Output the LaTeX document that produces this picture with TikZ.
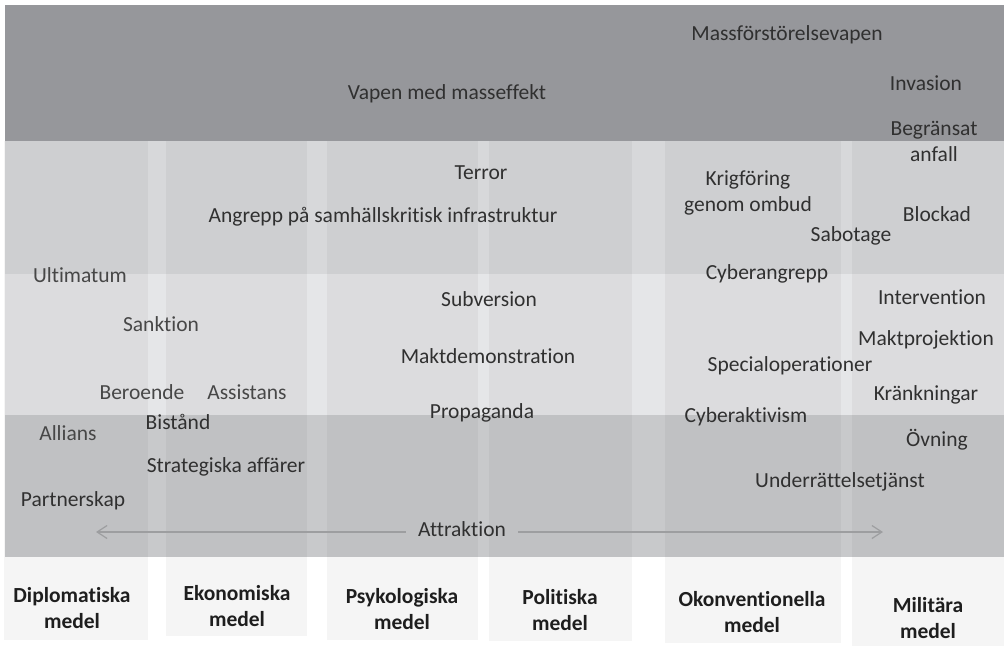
\documentclass[tikz,border=0pt]{standalone}
\usepackage{fontspec}
\setmainfont{Carlito}[Ligatures=NoCommon]
\usetikzlibrary{arrows.meta}
\definecolor{topband}{HTML}{96979B}
\definecolor{bandB}{HTML}{D7D8DA}
\definecolor{bandC}{HTML}{E5E6E8}
\definecolor{bandD}{HTML}{C8C9CB}
\definecolor{txt}{HTML}{303030}
\definecolor{txtlight}{HTML}{474747}
\definecolor{labc}{HTML}{1E1E1E}
\definecolor{arrowc}{HTML}{9D9EA0}
\tikzset{
  lbl/.style={anchor=base, inner sep=0pt, text=txt, font=\fontsize{21.5pt}{26pt}\selectfont},
  lbllight/.style={lbl, text=txtlight},
  lbl2/.style={lbl, align=center},
  meansbox/.style={anchor=base, inner sep=0pt, align=center, text=labc, font=\fontsize{21.5pt}{26pt}\selectfont\bfseries},
  colstrip/.style={fill=black, fill opacity=0.04, draw=none},
  arr/.style={draw=arrowc, line width=1.4pt, -{Straight Barb[length=10pt,width=13pt,line width=1.2pt]}}
}
\begin{document}
\begin{tikzpicture}[x=1pt,y=-1pt]
\useasboundingbox (0,0) rectangle (1004,646);
% bands
\fill[topband] (5,5) rectangle (1004,141);
\fill[bandB] (5,141) rectangle (1004,274);
\fill[bandC] (5,274) rectangle (1004,415);
\fill[bandD] (5,415) rectangle (1004,557);
% columns
\fill[colstrip] (4,141) rectangle (148,640);
\fill[colstrip] (166,141) rectangle (307,636);
\fill[colstrip] (327,141) rectangle (478,640);
\fill[colstrip] (489,141) rectangle (632,641);
\fill[colstrip] (665,141) rectangle (841,643);
\fill[colstrip] (852,141) rectangle (1004,646);
% texts (two-line nodes are placed by the baseline of their last line)
\node[lbl] (massf) at (787,40) {Massförstörelsevapen};
\node[lbl] (vapen) at (447,99) {Vapen med masseffekt};
\node[lbl] (invasion) at (926,90) {Invasion};
\node[lbl2] (begr) at (934,161) {Begränsat\\anfall};
\node[lbl] (terror) at (481,179) {Terror};
\node[lbl] (angrepp) at (383,222) {Angrepp på samhällskritisk infrastruktur};
\node[lbl2] (krig) at (748,211) {Krigföring\\genom ombud};
\node[lbl] (blockad) at (937,221) {Blockad};
\node[lbl] (sabotage) at (851,241) {Sabotage};
\node[lbllight] (ultimatum) at (80,282) {Ultimatum};
\node[lbl] (cyberangrepp) at (767,279) {Cyberangrepp};
\node[lbl] (subversion) at (489,306) {Subversion};
\node[lbl] (intervention) at (932,304) {Intervention};
\node[lbllight] (sanktion) at (161,331) {Sanktion};
\node[lbl] (maktdem) at (488,363) {Maktdemonstration};
\node[lbl] (maktproj) at (926,345) {Maktprojektion};
\node[lbl] (special) at (790,371) {Specialoperationer};
\node[lbllight] (beroende) at (142,399) {Beroende};
\node[lbllight] (assistans) at (247,399) {Assistans};
\node[lbl] (krank) at (926,400) {Kränkningar};
\node[lbl] (propaganda) at (482,418) {Propaganda};
\node[lbl] (bistand) at (178,429) {Bistånd};
\node[lbllight] (allians) at (68,440) {Allians};
\node[lbl] (cyberakt) at (746,422) {Cyberaktivism};
\node[lbl] (ovning) at (937,446) {Övning};
\node[lbl] (strat) at (226,472) {Strategiska affärer};
\node[lbl] (underr) at (840,487) {Underrättelsetjänst};
\node[lbl] (partner) at (73,506) {Partnerskap};
\node[lbl, inner xsep=12pt] (attr) at (462,536) {Attraktion};
\coordinate (aL) at (96,532);
\coordinate (aR) at (883,532);
\draw[arr] (attr.west |- aL) -- (aL);
\draw[arr] (attr.east |- aR) -- (aR);
% means labels
\node[meansbox] (dipl) at (72,628) {Diplomatiska\\medel};
\node[meansbox] (ekon) at (237,626) {Ekonomiska\\medel};
\node[meansbox] (psyk) at (402,629) {Psykologiska\\medel};
\node[meansbox] (polit) at (560,630) {Politiska\\medel};
\node[meansbox] (okonv) at (752,632) {Okonventionella\\medel};
\node[meansbox] (milit) at (928,638) {Militära\\medel};
\end{tikzpicture}
\end{document}
